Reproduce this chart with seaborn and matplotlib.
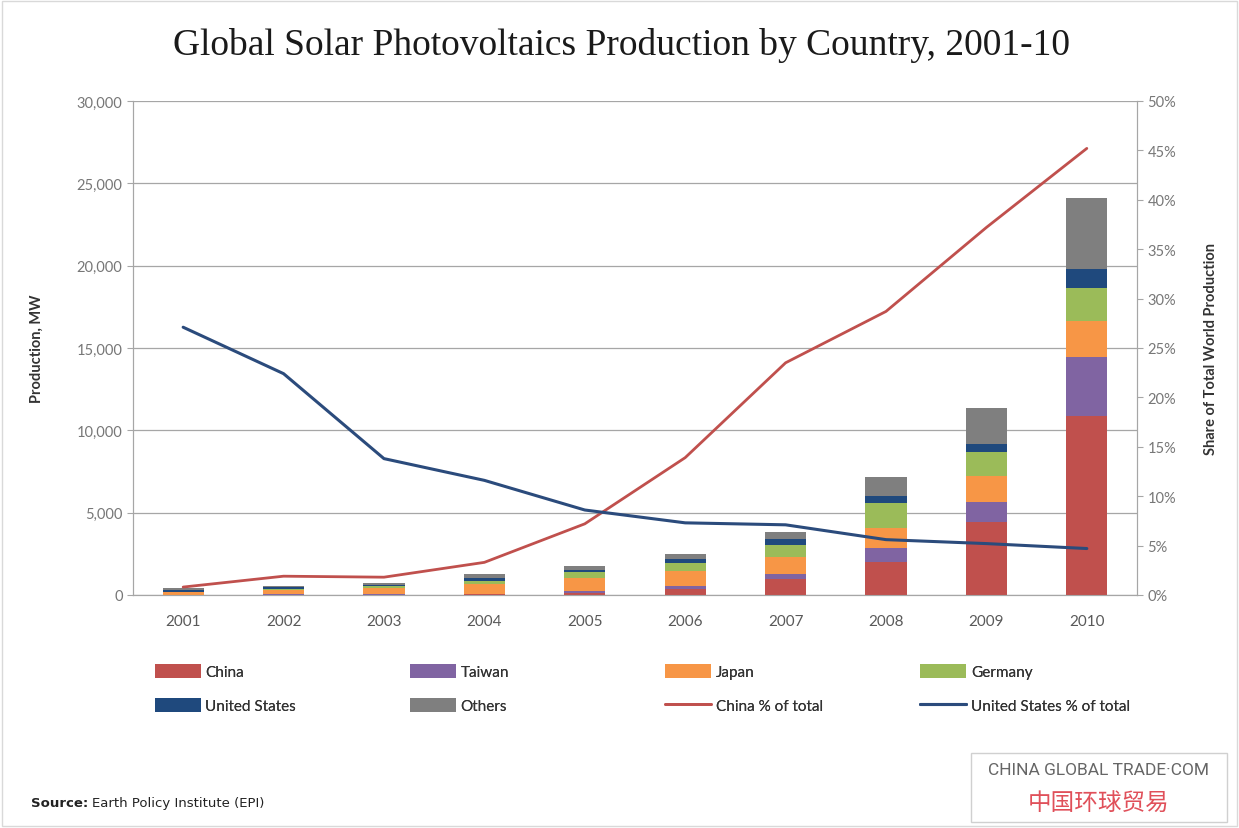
import numpy as np
import pandas as pd
import matplotlib
matplotlib.use("Agg")
import matplotlib.pyplot as plt
import seaborn as sns
from matplotlib.patches import Patch, Rectangle
from matplotlib.lines import Line2D
from matplotlib.ticker import FuncFormatter

# Data (MW)
years = ["2001", "2002", "2003", "2004", "2005", "2006", "2007", "2008", "2009", "2010"]
china = [3, 10, 15, 40, 130, 350, 950, 2000, 4430, 10850]
taiwan = [10, 20, 20, 40, 90, 180, 350, 850, 1210, 3600]
japan = [170, 250, 365, 600, 830, 930, 1000, 1220, 1580, 2200]
germany = [25, 55, 120, 190, 320, 500, 750, 1510, 1460, 2000]
united_states = [100, 120, 105, 140, 150, 200, 350, 420, 490, 1150]
others = [100, 105, 125, 260, 260, 340, 400, 1150, 2180, 4300]

# share of world production (%)
china_pct = [0.8, 1.9, 1.8, 3.3, 7.2, 13.9, 23.5, 28.7, 37.2, 45.2]
us_pct = [27.1, 22.4, 13.8, 11.6, 8.6, 7.3, 7.1, 5.6, 5.2, 4.7]

series = ["China", "Taiwan", "Japan", "Germany", "United States", "Others"]
colors = {"China": "#C0504D", "Taiwan": "#8064A2", "Japan": "#F79646",
          "Germany": "#9BBB59", "United States": "#1F497D", "Others": "#7F7F7F"}
china_line = "#C0504D"
us_line = "#2B4B7C"

df = pd.DataFrame({"year": years, "China": china, "Taiwan": taiwan, "Japan": japan,
                   "Germany": germany, "United States": united_states, "Others": others})

sns.set_style("white")
plt.rcParams["font.family"] = ["Lato", "DejaVu Sans"]

fig = plt.figure(figsize=(12.39, 8.29), dpi=100)
ax = fig.add_axes([0.1073, 0.2811, 0.8104, 0.5959])

# stacked bars: draw cumulative totals from the top layer down
cum = df[series].cumsum(axis=1)
for name in reversed(series):
    sns.barplot(x=df["year"], y=cum[name], color=colors[name], width=0.41,
                saturation=1, linewidth=0, edgecolor="none", ax=ax, zorder=3)

ax.set_xlim(-0.5, 9.5)
ax.set_ylim(0, 30000)
ax.set_yticks(np.arange(0, 30001, 5000))
ax.yaxis.set_major_formatter(FuncFormatter(lambda v, p: f"{int(v):,}"))
ax.grid(axis="y", color="#A6A6A6", lw=0.9, zorder=0)
ax.set_xlabel("")
ax.set_ylabel("Production, MW", fontsize=10.5, fontweight="bold", color="#333333", labelpad=24)
ax.set_xticks(range(len(years)))
ax.set_xticklabels(years)
ax.set_xticks(np.arange(-0.5, 10, 1), minor=True)
ax.tick_params(axis="x", which="major", length=0, pad=14, labelsize=11, labelcolor="#595959")
ax.tick_params(axis="x", which="minor", length=5, color="#A6A6A6", direction="out")
ax.tick_params(axis="y", length=4, color="#A6A6A6", direction="out", labelsize=10.5,
               labelcolor="#777777", left=True)
ax.spines["top"].set_visible(False)
for s in ["left", "right", "bottom"]:
    ax.spines[s].set_color("#A6A6A6")

ax2 = ax.twinx()
pos = np.arange(len(years))
sns.lineplot(x=pos, y=china_pct, color=china_line, lw=2.0, ax=ax2, zorder=4)
sns.lineplot(x=pos, y=us_pct, color=us_line, lw=2.2, ax=ax2, zorder=4)
ax2.set_ylim(0, 50)
ax2.set_yticks(np.arange(0, 51, 5))
ax2.yaxis.set_major_formatter(FuncFormatter(lambda v, p: f"{int(v)}%"))
ax2.tick_params(axis="y", length=4, color="#A6A6A6", direction="out", labelsize=10.5,
                labelcolor="#777777", right=True)
ax2.set_ylabel("Share of Total World Production", fontsize=10.5, fontweight="bold",
               color="#333333", labelpad=20)
ax2.spines["top"].set_visible(False)
for s in ["left", "right", "bottom"]:
    ax2.spines[s].set_color("#A6A6A6")
ax2.grid(False)
ax2.set_xlim(-0.5, 9.5)

fig.text(0.502, 0.945, "Global Solar Photovoltaics Production by Country, 2001-10",
         ha="center", va="center", fontsize=27, family="Liberation Serif", color="#1a1a1a")

# legend: four columns of two entries each
h = {n: Patch(facecolor=colors[n], edgecolor="none") for n in series}
h["China % of total"] = Line2D([], [], color=china_line, lw=2)
h["United States % of total"] = Line2D([], [], color=us_line, lw=2.2)
columns = [["China", "United States"], ["Taiwan", "Others"],
           ["Japan", "China % of total"], ["Germany", "United States % of total"]]
col_x = [0.120, 0.326, 0.532, 0.738]
for cx, labels in zip(col_x, columns):
    leg = fig.legend([h[k] for k in labels], labels, loc="upper left",
                     bbox_to_anchor=(cx, 0.205), frameon=False, fontsize=11,
                     handlelength=3.0, handleheight=1.0, handletextpad=0.3,
                     labelspacing=1.25, labelcolor="#333333", borderaxespad=0)
    fig.add_artist(leg)

fig.text(0.025, 0.031, "Source:", fontsize=9.5, fontweight="bold", color="#222222",
         va="center", family="DejaVu Sans")
fig.text(0.074, 0.031, "Earth Policy Institute (EPI)", fontsize=9.5, color="#222222",
         va="center", family="DejaVu Sans")

# watermark box
fig.patches.append(Rectangle((0.784, 0.007), 0.206, 0.083, transform=fig.transFigure,
                             facecolor="white", edgecolor="#D0D0D0", lw=1))
fig.text(0.887, 0.07, "CHINA GLOBAL TRADE·COM", ha="center", va="center", fontsize=12.5,
         color="#666666", family=["Roboto", "DejaVu Sans"])
fig.text(0.887, 0.031, "中国环球贸易", ha="center", va="center", fontsize=17,
         color="#E0505A", family=["Noto Sans CJK SC", "DejaVu Sans"])

# outer chart border
fig.patches.append(Rectangle((0.002, 0.002), 0.996, 0.996, transform=fig.transFigure,
                             facecolor="none", edgecolor="#D9D9D9", lw=1))

fig.savefig("out.png", dpi=100)
